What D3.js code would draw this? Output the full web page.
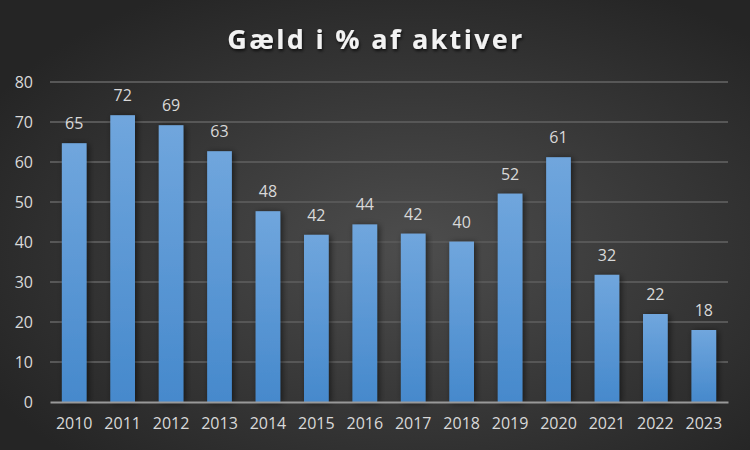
<!DOCTYPE html>
<html><head><meta charset="utf-8">
<script src="https://cdn.jsdelivr.net/npm/d3@7"></script>
<style>html,body{margin:0;padding:0;background:#333;}svg{display:block;}</style>
</head><body>
<svg id="chart" width="750" height="450"></svg>
<script>
const title = "Gæld i % af aktiver";
const years = ["2010","2011","2012","2013","2014","2015","2016","2017","2018","2019","2020","2021","2022","2023"];
const values = [64.7, 71.7, 69.2, 62.7, 47.7, 41.8, 44.4, 42.1, 40.1, 52.1, 61.2, 31.8, 22.0, 18.0];
const yTicks = [0,10,20,30,40,50,60,70,80];

const W = 750, H = 450;
const m = {left: 50, right: 22, top: 82, bottom: 48};
const svg = d3.select("#chart");
const defs = svg.append("defs");

const bg = defs.append("radialGradient").attr("id","bg")
  .attr("cx","55%").attr("cy","55%").attr("r","65%");
bg.append("stop").attr("offset","0%").attr("stop-color","#4d4d4d");
bg.append("stop").attr("offset","100%").attr("stop-color","#252525");

const bar = defs.append("linearGradient").attr("id","barg").attr("x1",0).attr("y1",0).attr("x2",0).attr("y2",1);
bar.append("stop").attr("offset","0%").attr("stop-color","#70a6dd");
bar.append("stop").attr("offset","100%").attr("stop-color","#4689cc");

const sh = defs.append("filter").attr("id","sh").attr("x","-30%").attr("y","-10%").attr("width","160%").attr("height","130%");
sh.append("feDropShadow").attr("dx",2).attr("dy",1).attr("stdDeviation",3).attr("flood-color","#000").attr("flood-opacity",0.55);
const tsh = defs.append("filter").attr("id","tsh");
tsh.append("feDropShadow").attr("dx",1).attr("dy",2).attr("stdDeviation",1.5).attr("flood-color","#000").attr("flood-opacity",0.7);

svg.append("rect").attr("width",W).attr("height",H).attr("fill","url(#bg)");

const x = d3.scaleBand().domain(years).range([m.left, W - m.right]).paddingInner(0.49).paddingOuter(0.245);
const y = d3.scaleLinear().domain([0,80]).range([H - m.bottom, m.top]);

// gridlines
svg.append("g").selectAll("line").data(yTicks.filter(d => d > 0)).join("line")
  .attr("x1", m.left).attr("x2", W - m.right)
  .attr("y1", d => y(d)).attr("y2", d => y(d))
  .attr("stroke","#575757").attr("stroke-width",2);

// y axis labels
const yAxis = svg.append("g").attr("transform",`translate(${m.left},0)`)
  .call(d3.axisLeft(y).tickValues(yTicks).tickSize(0).tickPadding(17));
yAxis.select(".domain").remove();
yAxis.selectAll("text").attr("fill","#d9d9d9").attr("font-size",16).attr("font-family","'Open Sans', 'Noto Sans', sans-serif");

// bars
svg.append("g").selectAll("rect").data(values).join("rect")
  .attr("x",(d,i) => x(years[i])).attr("width", x.bandwidth())
  .attr("y", d => y(d)).attr("height", d => y(0) - y(d))
  .attr("fill","url(#barg)").attr("filter","url(#sh)");

// value labels
svg.append("g").selectAll("text").data(values).join("text")
  .attr("x",(d,i) => x(years[i]) + x.bandwidth()/2)
  .attr("y", d => y(d) - 14)
  .attr("text-anchor","middle").attr("fill","#d9d9d9").attr("font-size",16)
  .attr("font-family","'Open Sans', 'Noto Sans', sans-serif")
  .text(d => d3.format(".0f")(d));

// x axis
const xAxis = svg.append("g").attr("transform",`translate(0,${y(0)})`)
  .call(d3.axisBottom(x).tickSize(0).tickPadding(16));
xAxis.select(".domain").attr("stroke","#999").attr("stroke-width",2);
xAxis.selectAll("text").attr("fill","#d9d9d9").attr("font-size",16).attr("font-family","'Open Sans', 'Noto Sans', sans-serif");

// title
svg.append("text").attr("x", W/2 + 1).attr("y", 49).attr("text-anchor","middle")
  .attr("fill","#f2f2f2").attr("font-size",27).attr("font-weight","bold")
  .attr("letter-spacing", 2.3)
  .attr("font-family","'Open Sans', 'Noto Sans', sans-serif")
  .attr("filter","url(#tsh)")
  .text(title);
</script>
</body></html>
